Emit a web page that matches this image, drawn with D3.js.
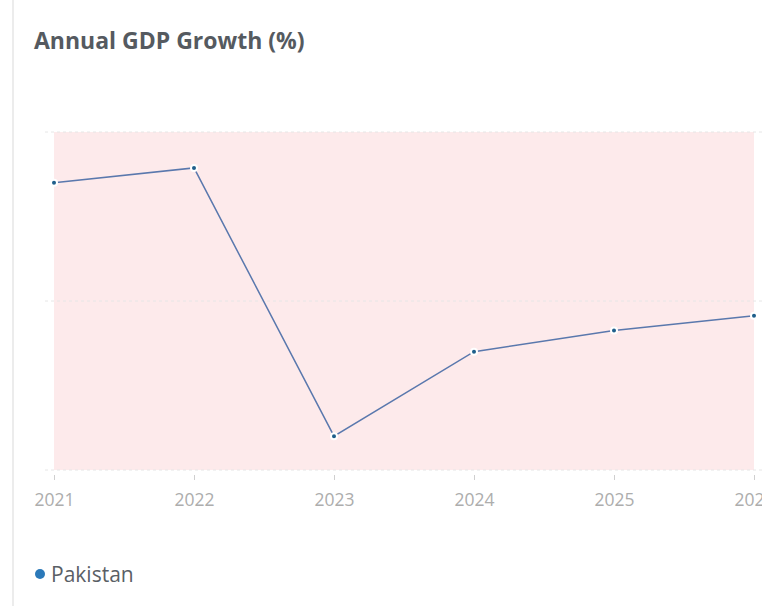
<!DOCTYPE html>
<html>
<head>
<meta charset="utf-8">
<script src="https://cdn.jsdelivr.net/npm/d3@7"></script>
<style>
  body { margin: 0; background: #fff; font-family: "Open Sans", sans-serif; }
  svg { display: block; overflow: hidden; }
</style>
</head>
<body>
<div id="chart"></div>
<script>
// chart data
const years = ["2021", "2022", "2023", "2024", "2025", "2026"];
const growth = [5.8, 6.15, -0.2, 1.8, 2.3, 2.65];
const gridValues = [-1, 3, 7];
const seriesName = "Pakistan";

const width = 762, height = 606;
const margin = {top: 132, right: 9, bottom: 136, left: 54};
const innerW = width - margin.left - margin.right;
const innerH = height - margin.top - margin.bottom;

const svg = d3.select("#chart").append("svg")
    .attr("width", width)
    .attr("height", height);

// card border on the left
svg.append("line")
    .attr("x1", 13).attr("x2", 13)
    .attr("y1", 0).attr("y2", height)
    .attr("stroke", "#ececec")
    .attr("stroke-width", 2);

svg.append("text")
    .attr("x", 34).attr("y", 49)
    .attr("font-size", 23)
    .attr("font-weight", 700)
    .attr("fill", "#555a60")
    .text("Annual GDP Growth (%)");

const g = svg.append("g")
    .attr("transform", `translate(${margin.left}, ${margin.top})`);

const x = d3.scalePoint().domain(years).range([0, 140 * (years.length - 1)]);
const y = d3.scaleLinear().domain([-1, 7]).range([innerH, 0]);

// pink plot band
g.append("rect")
    .attr("x", 0).attr("y", y(7))
    .attr("width", x("2026") - x("2021"))
    .attr("height", y(-1) - y(7))
    .attr("fill", "#fdeaeb");

// dashed gridlines
g.selectAll(".grid").data(gridValues).enter()
    .append("line")
    .attr("x1", -9).attr("x2", innerW + 10)
    .attr("y1", d => y(d)).attr("y2", d => y(d))
    .attr("stroke", "#e6e6e6")
    .attr("stroke-dasharray", "3,3");

// x axis
const xAxis = g.append("g")
    .attr("transform", `translate(0, ${innerH + 5})`)
    .call(d3.axisBottom(x).tickSize(5).tickPadding(14));
xAxis.select(".domain").remove();
xAxis.selectAll("line").attr("stroke", "#cfcfcf");
xAxis.selectAll("text")
    .attr("font-size", 17.5)
    .attr("font-family", "Open Sans, sans-serif")
    .attr("fill", "#adadad");

// line
const line = d3.line()
    .x((d, i) => x(years[i]))
    .y(d => y(d));

g.append("path")
    .datum(growth)
    .attr("d", line)
    .attr("fill", "none")
    .attr("stroke", "#5a78ad")
    .attr("stroke-width", 1.5);

g.selectAll(".pt").data(growth).enter()
    .append("circle")
    .attr("cx", (d, i) => x(years[i]))
    .attr("cy", d => y(d))
    .attr("r", 3)
    .attr("fill", "#1f5f8b")
    .attr("stroke", "#fff")
    .attr("stroke-width", 2);

// legend
svg.append("circle")
    .attr("cx", 40).attr("cy", 574)
    .attr("r", 5)
    .attr("fill", "#2b79b9");
svg.append("text")
    .attr("x", 51).attr("y", 582)
    .attr("font-size", 21)
    .attr("fill", "#5a5f66")
    .text(seriesName);
</script>
</body>
</html>
